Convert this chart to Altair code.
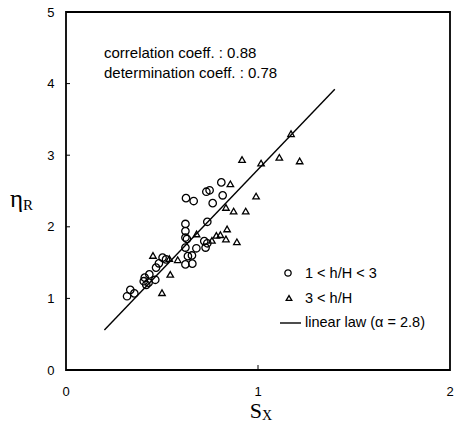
import altair as alt
import pandas as pd

# Circles: 1 < h/H < 3
circ_x = [0.318, 0.335, 0.356, 0.405, 0.41, 0.418, 0.43, 0.434, 0.465, 0.469, 0.484, 0.503, 0.521,
          0.622, 0.622, 0.622, 0.622, 0.635, 0.656, 0.622, 0.658, 0.679, 0.72, 0.727, 0.736, 0.736,
          0.625, 0.665, 0.731, 0.748, 0.764, 0.809, 0.816, 0.63]
circ_y = [1.03, 1.12, 1.07, 1.24, 1.29, 1.19, 1.22, 1.335, 1.26, 1.43, 1.49, 1.57, 1.545,
          2.04, 1.94, 1.85, 1.71, 1.59, 1.60, 1.475, 1.485, 1.70, 1.80, 1.71, 1.77, 2.07,
          2.40, 2.36, 2.49, 2.51, 2.33, 2.62, 2.44, 1.83]

# Triangles: 3 < h/H
tri_x = [1.172, 0.917, 1.111, 1.217, 1.016, 0.856, 0.99, 0.833, 0.873, 0.936, 0.839, 0.89,
         0.833, 0.804, 0.783, 0.76, 0.68, 0.582, 0.538, 0.453, 0.543, 0.50]
tri_y = [3.30, 2.94, 2.97, 2.92, 2.89, 2.60, 2.43, 2.27, 2.22, 2.22, 1.97, 1.79,
         1.83, 1.89, 1.88, 1.81, 1.90, 1.54, 1.555, 1.60, 1.335, 1.08]

# Linear law (alpha = 2.8)
line_x = [0.2, 1.4]
line_y = [0.56, 3.92]

x_labels = [0, 1, 2]
y_labels = [0, 1, 2, 3, 4, 5]
x_ticks = [1]
y_ticks = [1, 2, 3, 4]

W, H = 384, 358
FONT = "Liberation Sans"
SERIF = "Liberation Serif"

xs = alt.Scale(domain=[0, 2], nice=False, zero=False)
ys = alt.Scale(domain=[0, 5], nice=False, zero=False)

ax_x = alt.Axis(values=x_labels, ticks=False, domain=False, grid=False, labels=False, title=None)
ax_y = alt.Axis(values=y_labels, ticks=False, domain=False, grid=False,
                labelFont=FONT, labelFontSize=13, labelPadding=12,
                labelColor="black", title=None, format="d",
                labelOverlap=False, labelFlush=False)

X = alt.X("x:Q", scale=xs, axis=ax_x)
Y = alt.Y("y:Q", scale=ys, axis=ax_y)

circ_df = pd.DataFrame({"x": circ_x, "y": circ_y})
tri_df = pd.DataFrame({"x": tri_x, "y": tri_y})
line_df = pd.DataFrame({"x": line_x, "y": line_y})

frame = alt.Chart(pd.DataFrame({"a": [0]})).mark_rect(fill="white", stroke="black", strokeWidth=1.8).encode(
    x=alt.value(0), x2=alt.value(W), y=alt.value(0), y2=alt.value(H))

line = alt.Chart(line_df).mark_line(color="black", strokeWidth=1.4).encode(x=X, y=Y)
circles = alt.Chart(circ_df).mark_point(shape="circle", filled=False, color="black", size=55,
                                        strokeWidth=1.3, opacity=1).encode(x=X, y=Y)
tris = alt.Chart(tri_df).mark_point(shape="triangle-up", filled=False, color="black", size=42,
                                    strokeWidth=1.3, opacity=1).encode(x=X, y=Y)

xt = alt.Chart(pd.DataFrame({"x": x_ticks})).mark_rule(color="black", strokeWidth=1).encode(
    x=X, y=alt.value(H), y2=alt.value(H - 5))
yt = alt.Chart(pd.DataFrame({"y": y_ticks})).mark_rule(color="black", strokeWidth=1).encode(
    y=Y, x=alt.value(0), x2=alt.value(4))

xlab = alt.Chart(pd.DataFrame({"x": x_labels})).mark_text(
    font=FONT, fontSize=13, color="black", align="center", baseline="middle").encode(
    x=X, y=alt.value(H + 22), text=alt.Text("x:Q", format="d"))

def txt(s, x, y, size=14, font=FONT, align="left", baseline="middle"):
    return alt.Chart(pd.DataFrame({"s": [s]})).mark_text(
        font=font, fontSize=size, align=align, baseline=baseline, color="black").encode(
        text="s:N", x=alt.value(x), y=alt.value(y))

ann = [
    txt("correlation coeff. : 0.88", 38, 41, size=15),
    txt("determination coeff. : 0.78", 38, 61, size=15),
]

# legend (manual)
leg_circle = alt.Chart(pd.DataFrame({"a": [0]})).mark_point(shape="circle", filled=False, color="black",
                                                              size=40, strokeWidth=1.3, opacity=1).encode(
    x=alt.value(222), y=alt.value(261))
leg_tri = alt.Chart(pd.DataFrame({"a": [0]})).mark_point(shape="triangle-up", filled=False, color="black",
                                                           size=32, strokeWidth=1.3, opacity=1).encode(
    x=alt.value(223), y=alt.value(286))
leg_line = alt.Chart(pd.DataFrame({"a": [0]})).mark_rule(color="black", strokeWidth=1.4).encode(
    x=alt.value(214), x2=alt.value(235), y=alt.value(311))
leg_txt = [
    txt("1 < h/H < 3", 239, 262, size=14.5),
    txt("3 < h/H", 239, 287, size=14.5),
    txt("linear law (\u03b1 = 2.8)", 239, 311, size=14.5),
]

# axis titles with subscripts
titles = [
    txt("S", 196, 406, size=22, font=SERIF, align="right", baseline="alphabetic"),
    txt("X", 196, 408, size=14, font=SERIF, align="left", baseline="alphabetic"),
    txt("\u03b7", -43, 195, size=25, font=SERIF, align="right", baseline="alphabetic"),
    txt("R", -43, 198, size=15, font=SERIF, align="left", baseline="alphabetic"),
]

chart = alt.layer(frame, line, circles, tris, xt, yt, xlab, *ann, leg_circle, leg_tri, leg_line,
                  *leg_txt, *titles).properties(
    width=W, height=H,
    padding={"left": 66, "top": 12, "right": 4, "bottom": 63},
    autosize=alt.AutoSizeParams(type="none"),
    background="white",
).configure_view(stroke=None)

chart.save("out.html", embed_options={"renderer": "svg", "actions": False})
